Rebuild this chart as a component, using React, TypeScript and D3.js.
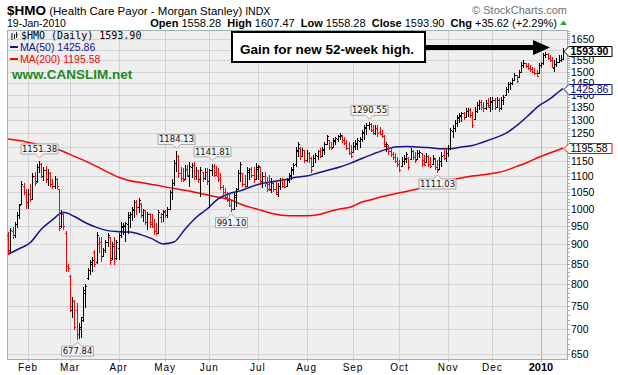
import React from "react";
import * as d3 from "d3";

// daily bars 20-Jan-2009 .. 19-Jan-2010 : [open, high, low, close]
const ohlc: [number, number, number, number][] = [
  // Jan
  [925, 933, 872, 880], [885, 945, 880, 938], [935, 948, 915, 925], [925, 960, 918, 955], [955, 990, 945, 982],
  [980, 1015, 970, 1010], [1015, 1085, 1010, 1075], [1070, 1080, 1040, 1050], [1050, 1060, 1000, 1020],
  // Feb
  [1020, 1060, 1000, 1045], [1045, 1075, 1020, 1030], [1030, 1110, 1030, 1100], [1100, 1115, 1070, 1080], [1085, 1140, 1080, 1130],
  [1130, 1151.38, 1110, 1140], [1140, 1145, 1095, 1100], [1100, 1130, 1085, 1120], [1120, 1135, 1080, 1090], [1090, 1125, 1070, 1110],
  [1110, 1115, 1065, 1075], [1075, 1090, 1060, 1070], [1070, 1100, 1060, 1090], [1090, 1095, 1060, 1068], [1060, 1060, 935, 945],
  [950, 995, 945, 985], [985, 990, 940, 950], [930, 935, 830, 845], [845, 850, 830, 838],
  // Mar
  [820, 822, 736, 750], [740, 770, 723, 760], [760, 763, 698, 705], [740, 757, 677.84, 690], [690, 712, 681, 705],
  [700, 725, 683, 720], [725, 793, 715, 785], [780, 801, 746, 795], [815, 840, 810, 835], [835, 859, 822, 855],
  [850, 866, 828, 860], [880, 885, 841, 850], [855, 933, 850, 925], [900, 920, 877, 905], [905, 920, 855, 870],
  [870, 890, 866, 885], [885, 911, 877, 905], [905, 930, 893, 925], [920, 920, 847, 860], [865, 906, 860, 895],
  [900, 920, 847, 865], [865, 911, 859, 905],
  // Apr
  [890, 930, 859, 925], [925, 961, 916, 950], [948, 958, 925, 952], [950, 961, 906, 958], [955, 989, 928, 980],
  [975, 989, 945, 985], [985, 1004, 963, 1000], [995, 1026, 972, 1020], [1020, 1026, 981, 1005], [1005, 1032, 987, 1025],
  [1015, 1016, 972, 980], [980, 1000, 961, 995], [995, 996, 952, 960], [960, 990, 938, 985], [985, 987, 945, 955],
  [960, 985, 945, 950], [950, 970, 925, 935], [935, 958, 925, 930], [930, 996, 928, 990], [975, 987, 958, 985],
  [985, 996, 961, 992],
  // May
  [990, 996, 972, 980], [980, 1004, 972, 1000], [1000, 1057, 1000, 1050], [1050, 1090, 1025, 1080], [1080, 1155, 1070, 1145],
  [1145, 1184.13, 1115, 1170], [1170, 1172, 1095, 1110], [1110, 1132, 1082, 1095], [1095, 1128, 1082, 1088], [1090, 1138, 1088, 1125],
  [1125, 1138, 1098, 1105], [1100, 1148, 1066, 1135], [1130, 1144, 1095, 1138], [1138, 1148, 1088, 1100], [1100, 1131, 1088, 1120],
  [1120, 1121, 1078, 1090], [1090, 1131, 1035, 1120], [1115, 1115, 1082, 1095], [1095, 1128, 1088, 1115], [1115, 1128, 1072, 1085],
  // Jun
  [1085, 1125, 1001, 1120], [1120, 1141.81, 1100, 1135], [1135, 1140, 1098, 1105], [1115, 1135, 1100, 1100], [1100, 1128, 1082, 1090],
  [1090, 1110, 1057, 1065], [1065, 1072, 1041, 1050], [1050, 1063, 1026, 1035], [1035, 1050, 1020, 1025], [1025, 1047, 1005, 1010],
  [1010, 1026, 991.1, 1000], [1000, 1047, 996, 1040], [1035, 1063, 1004, 1055], [1060, 1121, 1057, 1110], [1110, 1148, 1082, 1140],
  [1110, 1111, 1066, 1075], [1075, 1105, 1063, 1070], [1070, 1131, 1070, 1120], [1115, 1128, 1088, 1125], [1125, 1131, 1095, 1105],
  [1105, 1131, 1078, 1090], [1090, 1144, 1088, 1130],
  // Jul
  [1125, 1138, 1088, 1135], [1130, 1131, 1072, 1085], [1085, 1114, 1063, 1100], [1100, 1114, 1066, 1080], [1080, 1098, 1050, 1060],
  [1075, 1104, 1055, 1058], [1060, 1095, 1047, 1080], [1080, 1088, 1050, 1060], [1060, 1082, 1041, 1050], [1045, 1079, 1035, 1070],
  [1070, 1095, 1057, 1088], [1088, 1095, 1063, 1070], [1070, 1088, 1063, 1066], [1068, 1095, 1066, 1090], [1088, 1111, 1079, 1105],
  [1100, 1131, 1088, 1125], [1120, 1144, 1104, 1138], [1140, 1200, 1131, 1190], [1185, 1218, 1165, 1210], [1195, 1200, 1155, 1170],
  [1170, 1196, 1165, 1190], [1189, 1189, 1144, 1155],
  // Aug
  [1155, 1189, 1148, 1180], [1180, 1182, 1144, 1160], [1160, 1165, 1111, 1120], [1135, 1172, 1131, 1160], [1160, 1179, 1144, 1172],
  [1170, 1189, 1155, 1185], [1185, 1196, 1162, 1170], [1170, 1200, 1165, 1192], [1190, 1218, 1172, 1210], [1210, 1243, 1207, 1238],
  [1225, 1225, 1189, 1200], [1200, 1218, 1189, 1195], [1200, 1232, 1200, 1225], [1222, 1236, 1207, 1232], [1230, 1243, 1218, 1238],
  [1238, 1250, 1225, 1245], [1240, 1243, 1214, 1225], [1225, 1236, 1207, 1215], [1215, 1225, 1189, 1195], [1195, 1218, 1172, 1180],
  [1180, 1207, 1162, 1170],
  // Sep
  [1182, 1218, 1179, 1205], [1205, 1225, 1189, 1215], [1212, 1232, 1189, 1225], [1222, 1236, 1196, 1230], [1230, 1262, 1218, 1255],
  [1250, 1280, 1225, 1272], [1270, 1288, 1243, 1282], [1280, 1290.55, 1262, 1285], [1284, 1288, 1254, 1262], [1262, 1280, 1243, 1250],
  [1250, 1280, 1243, 1270], [1268, 1280, 1236, 1250], [1255, 1273, 1245, 1248], [1248, 1262, 1232, 1240], [1240, 1243, 1200, 1210],
  [1205, 1218, 1182, 1212], [1205, 1207, 1172, 1185], [1185, 1200, 1165, 1175], [1175, 1182, 1155, 1165], [1165, 1179, 1144, 1150],
  [1150, 1165, 1131, 1140],
  // Oct
  [1140, 1155, 1114, 1120], [1135, 1165, 1131, 1150], [1150, 1172, 1138, 1160], [1158, 1182, 1144, 1175], [1162, 1165, 1121, 1130],
  [1158, 1196, 1155, 1185], [1185, 1189, 1155, 1165], [1165, 1182, 1144, 1155], [1158, 1189, 1155, 1180], [1178, 1189, 1161, 1182],
  [1178, 1179, 1131, 1140], [1155, 1172, 1135, 1138], [1148, 1179, 1144, 1170], [1168, 1172, 1131, 1140], [1140, 1165, 1128, 1135],
  [1140, 1172, 1138, 1160], [1158, 1161, 1121, 1130], [1130, 1155, 1111.03, 1120], [1125, 1165, 1121, 1150], [1150, 1182, 1131, 1170],
  [1172, 1196, 1155, 1162], [1160, 1189, 1148, 1178],
  // Nov
  [1178, 1207, 1165, 1195], [1195, 1269, 1189, 1260], [1258, 1280, 1232, 1270], [1270, 1300, 1254, 1290], [1288, 1319, 1273, 1310],
  [1308, 1327, 1288, 1318], [1316, 1331, 1292, 1325], [1325, 1331, 1300, 1310], [1310, 1347, 1307, 1335], [1335, 1347, 1311, 1340],
  [1340, 1347, 1307, 1320], [1320, 1331, 1269, 1280], [1302, 1351, 1300, 1335], [1335, 1371, 1327, 1360], [1360, 1379, 1339, 1370],
  [1370, 1379, 1339, 1350], [1350, 1371, 1331, 1345], [1345, 1379, 1339, 1365], [1365, 1387, 1347, 1360], [1350, 1391, 1331, 1375],
  // Dec
  [1372, 1391, 1339, 1380], [1380, 1387, 1339, 1350], [1352, 1391, 1351, 1380], [1380, 1387, 1331, 1345], [1345, 1391, 1339, 1380],
  [1380, 1399, 1359, 1392], [1400, 1433, 1399, 1425], [1425, 1454, 1408, 1445], [1445, 1454, 1420, 1450], [1450, 1472, 1441, 1465],
  [1465, 1494, 1463, 1485], [1485, 1485, 1450, 1460], [1478, 1507, 1476, 1500], [1500, 1543, 1494, 1530], [1530, 1552, 1516, 1540],
  [1538, 1540, 1516, 1525], [1525, 1538, 1507, 1515], [1515, 1529, 1498, 1510], [1510, 1520, 1494, 1500], [1500, 1516, 1485, 1495],
  [1495, 1507, 1476, 1482], [1495, 1538, 1494, 1530],
  // Jan 2010
  [1530, 1543, 1516, 1538], [1538, 1585, 1529, 1575], [1575, 1589, 1561, 1580], [1580, 1585, 1552, 1560], [1560, 1575, 1543, 1550],
  [1550, 1566, 1516, 1520], [1515, 1552, 1498, 1535], [1535, 1561, 1520, 1545], [1545, 1575, 1538, 1550], [1552, 1575, 1545, 1558.28],
  [1558.28, 1607.47, 1558.28, 1593.9],
];

// moving averages read every 5 sessions
const maSessions = [
  0, 5, 10, 15, 20, 25, 30, 35, 40, 45, 50, 55, 60, 65, 70, 75, 80, 85, 90, 95, 100, 105, 110, 115, 120, 125,
  130, 135, 140, 145, 150, 155, 160, 165, 170, 175, 180, 185, 190, 195, 200, 205, 210, 215, 220, 225, 230, 235,
  240, 245, 250, 251,
];
const ma50 = [
  874, 888, 904, 941, 967, 989, 977, 959, 946, 937, 934, 933, 926, 915, 901, 906, 941, 974, 999, 1029, 1045, 1054,
  1067, 1078, 1083, 1089, 1097, 1101, 1111, 1121, 1131, 1144, 1160, 1175, 1189, 1200, 1202, 1200, 1198, 1194, 1194,
  1200, 1205, 1218, 1232, 1249, 1278, 1315, 1355, 1383, 1420, 1425.86,
];
const ma200 = [
  1229, 1223, 1215, 1207, 1198, 1184, 1167, 1151, 1133, 1114, 1097, 1086, 1080, 1074, 1068, 1061, 1056, 1049, 1042,
  1034, 1028, 1014, 1003, 994, 985, 980, 979, 979, 982, 991, 999, 1005, 1020, 1028, 1037, 1045, 1052, 1060, 1070,
  1080, 1088, 1095, 1101, 1105, 1111, 1119, 1133, 1147, 1164, 1179, 1193, 1195.58,
];

const monthLabels = ["Feb", "Mar", "Apr", "May", "Jun", "Jul", "Aug", "Sep", "Oct", "Nov", "Dec", "2010"];
const monthSessions = [9, 28, 50, 71, 91, 113, 135, 156, 177, 199, 219, 241];

const priceTicks = [
  650, 700, 750, 800, 850, 900, 950, 1000, 1050, 1100, 1150, 1200, 1250, 1300, 1350, 1400, 1450, 1500, 1550, 1600, 1650,
];

// swing highs / lows that get a value flag
const flagSessions = [14, 31, 76, 92, 101, 163, 194];
const flagKinds = ["high", "low", "high", "high", "low", "high", "low"];

const SANS = "'Liberation Sans', Arial, sans-serif";
const NAVY = "#14148c";
const RED = "#ff0000";

export default function App() {
  const left = 7, right = 568, top = 30, bottom = 359;

  const x = d3.scaleLinear().domain([0, ohlc.length - 1]).range([8.1, 563.1]);
  const y = d3.scaleLog().domain([641, 1696]).range([bottom, top]);

  const maLine = d3
    .line<number>()
    .x((_, i) => x(maSessions[i]))
    .y((v) => y(v))
    .curve(d3.curveMonotoneX);

  const last = ohlc[ohlc.length - 1];
  const prevClose = ohlc[ohlc.length - 2][3];
  const chg = last[3] - prevClose;
  const pct = (chg / prevClose) * 100;

  const bars = ohlc.map((d, i) => {
    const [o, h, l, c] = d;
    const ref = i === 0 ? o : ohlc[i - 1][3];
    const xr = Math.round(x(i)) + 0.5;
    const path = `M${xr},${y(h)}V${y(l)}M${xr - 1.5},${Math.round(y(o)) + 0.5}H${xr}M${xr},${Math.round(y(c)) + 0.5}H${xr + 1.5}`;
    return <path key={i} d={path} stroke={c < ref ? RED : "#000"} strokeWidth={1} fill="none" />;
  });

  const flags = flagSessions.map((s, k) => {
    const isHigh = flagKinds[k] === "high";
    const v = isHigh ? ohlc[s][1] : ohlc[s][2];
    const label = v.toFixed(2);
    const cx = Math.round(x(s)) + 0.5;
    const w = label.length * 5 + 2;
    const x0 = cx - w / 2, x1 = cx + w / 2;
    let d: string, ty: number;
    if (isHigh) {
      const tip = y(v) - 3;
      const y1 = tip - 4, y0 = y1 - 10;
      d = `M${x0},${y0}H${x1}V${y1}H${cx + 4}L${cx},${tip}L${cx - 4},${y1}H${x0}Z`;
      ty = y1 - 2;
    } else {
      const tip = y(v) + 2;
      const y0 = tip + 4, y1 = y0 + 10;
      d = `M${x0},${y0}H${cx - 4}L${cx},${tip}L${cx + 4},${y0}H${x1}V${y1}H${x0}Z`;
      ty = y1 - 2;
    }
    return (
      <g key={s}>
        <path d={d} fill="#f4f4f4" stroke="#a8a8a8" strokeWidth={1} />
        <text x={cx} y={ty} textAnchor="middle" fontFamily="'DejaVu Sans', sans-serif" fontSize={8.5} fill="#111">
          {label}
        </text>
      </g>
    );
  });

  const tagValues = [last[3], ma50[ma50.length - 1], ma200[ma200.length - 1]];
  const tags = [
    { stroke: "#000", fill: "#000", bold: true },
    { stroke: NAVY, fill: "#000066", bold: false },
    { stroke: RED, fill: "#000", bold: false },
  ].map((t, k) => {
    const v = tagValues[k];
    const yv = Math.round(y(v)) + 0.5;
    return (
      <g key={k}>
        <path d={`M564,${yv}L569,${yv - 5}H612V${yv + 5}H569Z`} fill="#fff" stroke={t.stroke} strokeWidth={1} />
        <text x={570.5} y={yv + 3.8} fontFamily={SANS} fontSize={10.5} fontWeight={t.bold ? "bold" : "normal"} fill={t.fill}>
          {v.toFixed(2)}
        </text>
      </g>
    );
  });

  // labels that sit fully under a price tag are covered in the original
  const visibleTicks = priceTicks.filter((t) => tagValues.every((v) => Math.abs(y(t) - y(v)) > 4.5));

  const minorTicks = d3.range(650, 1700, 10);

  return (
    <svg width={618} height={375} style={{ position: "absolute", left: 0, top: 0, background: "#fff" }}>
      {/* header */}
      <text x={7} y={15} fontFamily={SANS} fill="#000">
        <tspan fontSize={13.5} fontWeight="bold">$HMO</tspan>
        <tspan fontSize={11.5}> (Health Care Payor - Morgan Stanley)</tspan>
        <tspan fontSize={10.5}> INDX</tspan>
      </text>
      <text x={567} y={14} textAnchor="end" fontFamily={SANS} fontSize={11} fill="#707070">
        © StockCharts.com
      </text>
      <text x={7} y={27} fontFamily={SANS} fontSize={10.5} fill="#000">19-Jan-2010</text>
      <text x={557} y={27} textAnchor="end" fontFamily={SANS} fontSize={11} fill="#000" xmlSpace="preserve">
        <tspan fontWeight="bold">Open</tspan>{` ${last[0].toFixed(2)}  `}
        <tspan fontWeight="bold">High</tspan>{` ${last[1].toFixed(2)}  `}
        <tspan fontWeight="bold">Low</tspan>{` ${last[2].toFixed(2)}  `}
        <tspan fontWeight="bold">Close</tspan>{` ${last[3].toFixed(2)}  `}
        <tspan fontWeight="bold">Chg</tspan>{` +${chg.toFixed(2)} (+${pct.toFixed(2)}%)`}
      </text>
      <path d="M560,25L563.5,20.5L567,25Z" fill="#22aa22" />

      {/* plot area */}
      <rect x={left} y={top} width={right - left} height={bottom - top} fill="#efefef" />
      {priceTicks.map((t) => (
        <line key={t} x1={left} x2={right} y1={Math.round(y(t)) + 0.5} y2={Math.round(y(t)) + 0.5} stroke="#d2d2d2" />
      ))}
      {monthSessions.map((s, k) => (
        <line
          key={s}
          x1={Math.round(x(s)) + 0.5}
          x2={Math.round(x(s)) + 0.5}
          y1={top}
          y2={bottom + 3}
          stroke={k === monthSessions.length - 1 ? "#b4b4b4" : "#d2d2d2"}
        />
      ))}
      <rect x={left + 0.5} y={top + 0.5} width={right - left - 1} height={bottom - top} fill="none" stroke="#9db1b1" />
      {minorTicks.map((t) => (
        <line key={t} x1={right} x2={right + 2} y1={Math.round(y(t)) + 0.5} y2={Math.round(y(t)) + 0.5} stroke="#9db1b1" />
      ))}

      {/* moving averages */}
      <path d={maLine(ma200) || ""} fill="none" stroke={RED} strokeWidth={1.5} />
      <path d={maLine(ma50) || ""} fill="none" stroke={NAVY} strokeWidth={1.5} />

      {/* price bars */}
      <g shapeRendering="crispEdges">{bars}</g>

      {flags}

      {/* legend */}
      <path d="M12,33V40M11,36H12M14.5,34V39M16.5,32V38M17,35H18" stroke="#222" fill="none" strokeWidth={1} />
      <text x={21} y={39} fontFamily="'DejaVu Sans Mono', monospace" fontSize={10} fill="#000">
        {`$HMO (Daily) ${last[3].toFixed(2)}`}
      </text>
      <line x1={10} x2={18} y1={47} y2={47} stroke={NAVY} strokeWidth={2} />
      <text x={20} y={50.5} fontFamily={SANS} fontSize={10.5} fill={NAVY}>
        {`MA(50) ${ma50[ma50.length - 1].toFixed(2)}`}
      </text>
      <line x1={10} x2={18} y1={59} y2={59} stroke={RED} strokeWidth={2} />
      <text x={20} y={62.5} fontFamily={SANS} fontSize={10.5} fill={RED}>
        {`MA(200) ${ma200[ma200.length - 1].toFixed(2)}`}
      </text>
      <text x={12} y={79} fontFamily={SANS} fontSize={13.5} fontWeight="bold" fill="#1f8a1f">
        www.CANSLIM.net
      </text>

      {/* annotation */}
      <rect x={232} y={32} width={193} height={30} fill="#fff" stroke="#000" strokeWidth={2} />
      <text x={240} y={54} fontFamily={SANS} fontSize={13.5} fontWeight="bold" fill="#000">
        Gain for new 52-week high.
      </text>
      <line x1={426} x2={536} y1={47.5} y2={47.5} stroke="#000" strokeWidth={5} />
      <path d="M533,40L550,47.5L533,55Z" fill="#000" />

      {/* right axis */}
      {visibleTicks.map((t) => (
        <text key={t} x={571} y={Math.round(y(t)) + 4} fontFamily={SANS} fontSize={10.5} fill="#000">
          {t}
        </text>
      ))}
      {tags}

      {/* bottom axis */}
      {monthSessions.map((s, k) => {
        const is2010 = k === monthSessions.length - 1;
        return (
          <text
            key={s}
            x={x(s)}
            y={371}
            textAnchor="middle"
            fontFamily={SANS}
            fontSize={is2010 ? 11 : 10}
            fontWeight={is2010 ? "bold" : "normal"}
            letterSpacing={is2010 ? 0 : 1}
            fill="#000"
          >
            {monthLabels[k]}
          </text>
        );
      })}
    </svg>
  );
}
